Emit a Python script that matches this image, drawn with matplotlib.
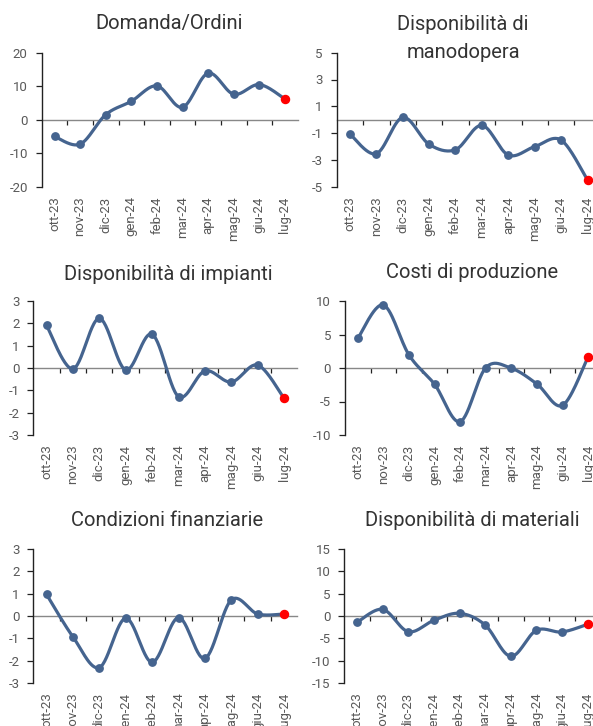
import numpy as np
import matplotlib
matplotlib.use("Agg")
import matplotlib.pyplot as plt

plt.rcParams['font.family'] = ['Roboto', 'DejaVu Sans']

months = ["ott-23", "nov-23", "dic-23", "gen-24", "feb-24", "mar-24",
          "apr-24", "mag-24", "giu-24", "lug-24"]

domanda = [-5.0, -7.3, 1.5, 5.5, 10.1, 3.7, 13.9, 7.6, 10.5, 6.2]
manodopera = [-1.07, -2.54, 0.17, -1.84, -2.24, -0.42, -2.64, -2.01, -1.52, -4.5]
impianti = [1.91, -0.04, 2.22, -0.09, 1.51, -1.28, -0.13, -0.63, 0.13, -1.36]
costi = [4.43, 9.4, 1.94, -2.44, -8.0, 0.05, -0.05, -2.39, -5.57, 1.69]
finanziarie = [0.97, -0.93, -2.31, -0.10, -2.07, -0.07, -1.9, 0.72, 0.09, 0.09]
materiali = [-1.42, 1.49, -3.51, -0.97, 0.6, -2.01, -9.03, -3.21, -3.58, -1.87]

titles = ["Domanda/Ordini", "Disponibilità di\nmanodopera", "Disponibilità di impianti",
          "Costi di produzione", "Condizioni finanziarie", "Disponibilità di materiali"]
series = [domanda, manodopera, impianti, costi, finanziarie, materiali]
yticks = [[-20, -10, 0, 10, 20], [-5, -3, -1, 1, 3, 5], [-3, -2, -1, 0, 1, 2, 3],
          [-10, -5, 0, 5, 10], [-3, -2, -1, 0, 1, 2, 3], [-15, -10, -5, 0, 5, 10, 15]]

# axes boxes in pixels: left, width, top, bottom
W, H = 593, 726
boxes = [(41.7, 256, 52.7, 186.7), (336.7, 264, 52.7, 186.7),
         (33.3, 264, 301, 435), (345, 256, 301, 435),
         (33.3, 264, 549, 683), (344.3, 256, 549, 683)]
title_y = [23, 38.5, 275, 272, 521, 521]
title_x = [169, 463, 168, 472, 167, 472]

BLUE = '#45648f'

def smooth(y, n=30):
    y = np.asarray(y, float)
    x = np.arange(len(y), dtype=float)
    xs, ys = [], []
    for i in range(len(y) - 1):
        p0 = np.array([x[i], y[i]])
        p3 = np.array([x[i + 1], y[i + 1]])
        prev = np.array([x[i - 1], y[i - 1]]) if i > 0 else p0
        nxt = np.array([x[i + 2], y[i + 2]]) if i + 2 < len(y) else p3
        p1 = p0 + (p3 - prev) / 6.0
        p2 = p3 - (nxt - p0) / 6.0
        t = np.linspace(0, 1, n)[:, None]
        pts = ((1 - t) ** 3) * p0 + 3 * ((1 - t) ** 2) * t * p1 + 3 * (1 - t) * t ** 2 * p2 + t ** 3 * p3
        xs.append(pts[:, 0]); ys.append(pts[:, 1])
    return np.concatenate(xs), np.concatenate(ys)

fig = plt.figure(figsize=(W / 100, H / 100), dpi=100)

for k in range(6):
    l, w, t, b = boxes[k]
    ax = fig.add_axes([l / W, 1 - b / H, w / W, (b - t) / H])
    y = series[k]
    x = np.arange(len(y))
    xs, ys = smooth(y)
    ax.plot(xs, ys, color=BLUE, lw=2.3, solid_capstyle='round', zorder=3)
    ax.plot(x[:-1], y[:-1], 'o', color=BLUE, ms=5.3, zorder=4)
    ax.plot(x[-1:], y[-1:], 'o', color='#ff0000', ms=5.8, zorder=5)
    ax.set_xlim(-0.5, len(y) - 0.5)
    yt = yticks[k]
    ax.set_ylim(yt[0], yt[-1])
    ax.set_yticks(yt)
    ax.set_yticklabels([str(v) for v in yt], fontsize=9.5, color='#595959')
    ax.tick_params(axis='y', direction='out', length=4, width=0.9, color='#222222', pad=6)
    ax.set_xticks(x)
    ax.set_xticklabels(months, rotation=90, fontsize=9.5, color='#595959')
    ax.tick_params(axis='x', length=0, pad=7)
    for s in ['top', 'right', 'bottom']:
        ax.spines[s].set_visible(False)
    ax.spines['left'].set_color('#222222')
    ax.spines['left'].set_linewidth(1.0)
    sec = ax.secondary_xaxis(0, transform=ax.transData)
    sec.set_xticks(np.arange(len(y) - 1) + 0.5)
    sec.set_xticklabels([])
    sec.tick_params(direction='out', length=3.5, width=0.9, color='#222222')
    sec.spines['bottom'].set_color('#888888')
    sec.spines['bottom'].set_linewidth(1.0)
    ax.patch.set_alpha(0)
    fig.text(title_x[k] / W, 1 - title_y[k] / H, titles[k], ha='center', va='center',
             fontsize=14.5, color='#333333', fontweight='normal', linespacing=1.6)

fig.savefig('out.png', dpi=100)
